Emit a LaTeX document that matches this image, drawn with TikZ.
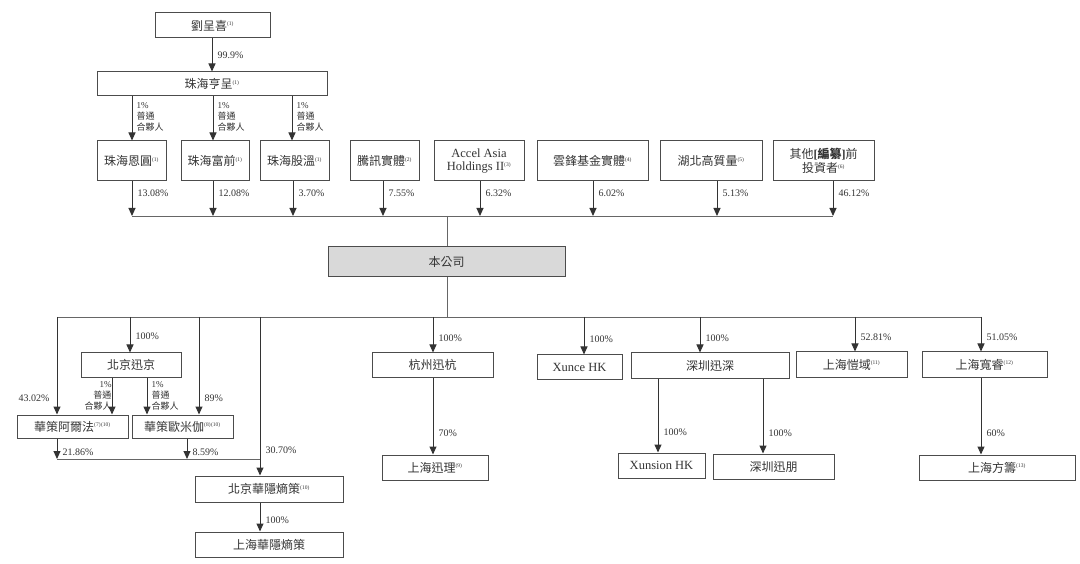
\documentclass[tikz,border=0pt]{standalone}
\usepackage{fontspec}
\setmainfont{Liberation Serif}
\newfontfamily\cjk{Noto Sans CJK TC}
\usetikzlibrary{arrows.meta}
\newcommand{\fn}[1]{\textsuperscript{\rmfamily\fontsize{5.5}{6}\selectfont(#1)}}
\newcommand{\gplines}{1\%\\{\cjk 普通}\\{\cjk 合夥人}}
\begin{document}
\begin{tikzpicture}
		[x=1pt,y=-1pt,
		ent/.style={draw=black!70, line width=1pt, inner sep=0pt,
			minimum height=24pt, text=black!80,
			font=\cjk\fontsize{12}{14}\selectfont},
		pct/.style={font=\fontsize{10}{11}\selectfont, text=black!80,
			anchor=west, inner sep=0pt, xshift=5pt},
		gpl/.style={font=\fontsize{9}{11}\selectfont, text=black!80,
			align=left, anchor=west, inner sep=0pt, xshift=4pt},
		own/.style={draw=black!80, line width=1pt,
			-{Triangle[width=7pt,length=8pt]}},
		bus/.style={draw=black!60, line width=0.8pt}]
		\useasboundingbox (0,0) rectangle (1080,564);
		% shareholders
		\node[ent, minimum width=115pt, minimum height=25pt] (liu) at (212.5,25.5) {劉呈喜\fn{1}};
		\node[ent, minimum width=230pt] (hengcheng) at (212,84) {珠海亨呈\fn{1}};
		\node[ent, minimum width=69pt, minimum height=40pt] (enyuan) at (131.5,161) {珠海恩圓\fn{1}};
		\node[ent, minimum width=68pt, minimum height=40pt] (fuqian) at (215,161) {珠海富前\fn{1}};
		\node[ent, minimum width=69pt, minimum height=40pt] (guwen) at (294.5,161) {珠海股溫\fn{1}};
		\node[ent, minimum width=69pt, minimum height=40pt] (tencent) at (384.5,161) {騰訊實體\fn{2}};
		\node[ent, minimum width=90pt, minimum height=40pt, align=center,
			font=\rmfamily\fontsize{12.5}{13.5}\selectfont] (accel) at (479,161) {Accel Asia\\Holdings II\fn{3}};
		\node[ent, minimum width=111pt, minimum height=40pt] (yunfeng) at (592.5,161) {雲鋒基金實體\fn{4}};
		\node[ent, minimum width=102pt, minimum height=40pt] (hubei) at (711,161) {湖北高質量\fn{5}};
		\node[ent, minimum width=101pt, minimum height=40pt, align=center] (others) at (823.5,161)
			{其他{\rmfamily\bfseries[}{\bfseries 編纂}{\rmfamily\bfseries]}前\\投資者\fn{6}};
		\node[ent, minimum width=237pt, minimum height=30pt, fill=black!15] (company) at (446.5,262) {本公司};
		% subsidiaries
		\node[ent] (xunjing) at (131,365) [minimum width=100pt] {北京迅京};
		\node[ent, minimum width=111pt, minimum height=23pt] (alpha) at (72.5,426.5) {華策阿爾法\fn{7}\fn{10}};
		\node[ent, minimum width=101pt, minimum height=23pt] (omega) at (182.5,426.5) {華策歐米伽\fn{8}\fn{10}};
		\node[ent, minimum width=148pt, minimum height=26pt] (bjhuayin) at (269,489) {北京華隱熵策\fn{10}};
		\node[ent, minimum width=148pt, minimum height=25pt] (shhuayin) at (269,544.5) {上海華隱熵策};
		\node[ent, minimum width=121pt] (hangzhou) at (432.5,365) {杭州迅杭};
		\node[ent, minimum width=106pt, minimum height=25pt] (shxunli) at (435,467.5) {上海迅理\fn{9}};
		\node[ent, minimum width=85pt, font=\rmfamily\fontsize{12.5}{13}\selectfont] (xuncehk) at (579.5,367) {Xunce HK};
		\node[ent, minimum width=158pt, minimum height=25pt] (shenzhen) at (710,365.5) {深圳迅深};
		\node[ent, minimum width=87pt, minimum height=25pt, font=\rmfamily\fontsize{12.5}{13}\selectfont] (xunsionhk) at (661.5,465.5) {Xunsion HK};
		\node[ent, minimum width=121pt, minimum height=25pt] (xunpeng) at (773.5,466.5) {深圳迅朋};
		\node[ent, minimum width=111pt, minimum height=25pt] (kaiyu) at (851.5,364.5) {上海愷域\fn{11}};
		\node[ent, minimum width=125pt, minimum height=25pt] (kuanrui) at (984.5,364.5) {上海寬睿\fn{12}};
		\node[ent, minimum width=156pt, minimum height=25pt] (fangchou) at (997,467.5) {上海方籌\fn{13}};

		% top holdings
		\draw[own] (liu.south -| 212,0) -- node[pct, pos=.5] {99.9\%} (hengcheng.north -| 212,0);
		\coordinate (g1) at (132,0);
		\coordinate (g2) at (213,0);
		\coordinate (g3) at (292,0);
		\draw[own] (hengcheng.south -| g1) -- node[gpl, pos=.47] {\gplines} (enyuan.north -| g1);
		\draw[own] (hengcheng.south -| g2) -- node[gpl, pos=.47] {\gplines} (fuqian.north -| g2);
		\draw[own] (hengcheng.south -| g3) -- node[gpl, pos=.47] {\gplines} (guwen.north -| g3);

		% bus into the company
		\coordinate (t1) at (132,216);
		\coordinate (t2) at (213,216);
		\coordinate (t3) at (293,216);
		\coordinate (t4) at (383,216);
		\coordinate (t5) at (480,216);
		\coordinate (t6) at (593,216);
		\coordinate (t7) at (717,216);
		\coordinate (t8) at (833,216);
		\coordinate (tc) at (447,216);
		\draw[bus] (t1) -- (t8);
		\draw[own] (enyuan.south -| t1) -- node[pct, pos=.35] {13.08\%} (t1);
		\draw[own] (fuqian.south -| t2) -- node[pct, pos=.35] {12.08\%} (t2);
		\draw[own] (guwen.south -| t3) -- node[pct, pos=.35] {3.70\%} (t3);
		\draw[own] (tencent.south -| t4) -- node[pct, pos=.35] {7.55\%} (t4);
		\draw[own] (accel.south -| t5) -- node[pct, pos=.35] {6.32\%} (t5);
		\draw[own] (yunfeng.south -| t6) -- node[pct, pos=.35] {6.02\%} (t6);
		\draw[own] (hubei.south -| t7) -- node[pct, pos=.35] {5.13\%} (t7);
		\draw[own] (others.south -| t8) -- node[pct, pos=.35] {46.12\%} (t8);
		\draw[bus] (tc) -- (tc |- company.north);

		% bus out of the company
		\coordinate (u1) at (57,317);
		\coordinate (u2) at (130,317);
		\coordinate (u3) at (199,317);
		\coordinate (u4) at (260,317);
		\coordinate (u5) at (433,317);
		\coordinate (u6) at (584,317);
		\coordinate (u7) at (700,317);
		\coordinate (u8) at (855,317);
		\coordinate (u9) at (981,317);
		\coordinate (uc) at (447,317);
		\draw[bus] (u1) -- (u9);
		\draw[bus] (company.south -| uc) -- (uc);
		\draw[own] (u1) -- node[pct, pos=.83, anchor=east, xshift=-12pt] {43.02\%} (alpha.north -| u1);
		\draw[own] (u2) -- node[pct, pos=.53] {100\%} (xunjing.north -| u2);
		\draw[own] (u3) -- node[pct, pos=.83] {89\%} (omega.north -| u3);
		\draw[own] (u4) -- node[pct, pos=.84] {30.70\%} (bjhuayin.north -| u4);
		\draw[own] (u5) -- node[pct, pos=.6] {100\%} (hangzhou.north -| u5);
		\draw[own] (u6) -- node[pct, pos=.6] {100\%} (xuncehk.north -| u6);
		\draw[own] (u7) -- node[pct, pos=.6] {100\%} (shenzhen.north -| u7);
		\draw[own] (u8) -- node[pct, pos=.6] {52.81\%} (kaiyu.north -| u8);
		\draw[own] (u9) -- node[pct, pos=.6] {51.05\%} (kuanrui.north -| u9);

		% general partner stakes
		\coordinate (j1) at (112,0);
		\coordinate (j2) at (147,0);
		\draw[own] (xunjing.south -| j1) -- node[gpl, pos=.5, anchor=east, align=right, xshift=-4pt] {\gplines} (alpha.north -| j1);
		\draw[own] (xunjing.south -| j2) -- node[gpl, pos=.5] {\gplines} (omega.north -| j2);

		% funds into 北京華隱熵策
		\coordinate (v1) at (57,459);
		\coordinate (v2) at (187,459);
		\coordinate (v3) at (260,459);
		\draw[bus] (v1) -- (v3);
		\draw[own] (alpha.south -| v1) -- node[pct, pos=.67] {21.86\%} (v1);
		\draw[own] (omega.south -| v2) -- node[pct, pos=.67] {8.59\%} (v2);
		\draw[own] (bjhuayin.south -| u4) -- node[pct, pos=.6] {100\%} (shhuayin.north -| u4);

		% second tier
		\coordinate (k1) at (658,0);
		\coordinate (k2) at (763,0);
		\draw[own] (hangzhou.south -| u5) -- node[pct, pos=.72] {70\%} (shxunli.north -| u5);
		\draw[own] (shenzhen.south -| k1) -- node[pct, pos=.73] {100\%} (xunsionhk.north -| k1);
		\draw[own] (shenzhen.south -| k2) -- node[pct, pos=.73] {100\%} (xunpeng.north -| k2);
		\draw[own] (kuanrui.south -| u9) -- node[pct, pos=.72] {60\%} (fangchou.north -| u9);
	\end{tikzpicture}
\end{document}
